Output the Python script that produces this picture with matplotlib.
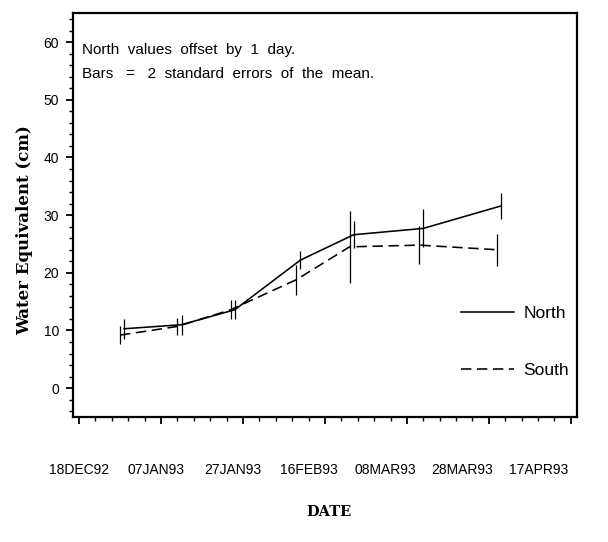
import numpy as np
import pandas as pd
import matplotlib
matplotlib.use('Agg')
import matplotlib.pyplot as plt
import matplotlib.dates as mdates
from matplotlib.transforms import ScaledTranslation

# survey dates (South); North values plotted one day later
south_dates = pd.to_datetime(['1992-12-28', '1993-01-11', '1993-01-24', '1993-02-09',
                              '1993-02-22', '1993-03-11', '1993-03-30'])
north_dates = south_dates + pd.Timedelta(days=1)

# water equivalent (cm) and 2 standard errors
north_we = [10.3, 11.0, 13.6, 22.2, 26.6, 27.7, 31.6]
north_se2 = [1.7, 1.7, 1.6, 1.6, 2.3, 3.3, 2.2]
south_we = [9.2, 10.7, 13.6, 18.8, 24.5, 24.8, 24.0]
south_se2 = [1.5, 1.5, 1.6, 2.6, 6.2, 3.3, 2.8]

tick_dates = pd.date_range('1992-12-18', periods=7, freq='20D')

plt.rcParams['font.family'] = ['Liberation Sans', 'DejaVu Sans']

fig = plt.figure(figsize=(6.08, 5.42), dpi=100)
ax = fig.add_axes([0.120, 0.2306, 0.829, 0.745])

# error bars first, then lines
ax.vlines(north_dates, np.array(north_we) - north_se2, np.array(north_we) + north_se2,
          color='black', lw=0.9)
ax.vlines(south_dates, np.array(south_we) - south_se2, np.array(south_we) + south_se2,
          color='black', lw=0.9)
ax.plot(north_dates, north_we, color='black', lw=1.15, label='North')
ax.plot(south_dates, south_we, color='black', lw=1.15, dashes=(6.5, 3.5), label='South')

ax.set_xlim(pd.Timestamp('1992-12-16 12:00'), pd.Timestamp('1993-04-18 12:00'))
ax.set_ylim(-5, 65)

ax.set_xticks(tick_dates)
ax.xaxis.set_major_formatter(plt.FuncFormatter(lambda v, p: mdates.num2date(v).strftime('%d%b%y').upper()))
ax.set_xticks(pd.date_range('1992-12-18', '1993-04-18', freq='4D'), minor=True)
ax.set_yticks(range(0, 61, 10))
ax.set_yticks(range(-4, 65, 2), minor=True)

ax.tick_params(axis='both', which='major', length=5, width=1.3, labelsize=10, direction='out')
ax.tick_params(axis='both', which='minor', length=3, width=1.0, direction='out')
ax.tick_params(axis='x', which='major', pad=28)
ax.tick_params(axis='y', which='major', pad=5)
for s in ax.spines.values():
    s.set_linewidth(1.6)

# the date labels sit a little left of their ticks, more so to the right
for i, lbl in enumerate(ax.get_xticklabels()):
    lbl.set_transform(lbl.get_transform() + ScaledTranslation(-0.053 * i, 0, fig.dpi_scale_trans))

ax.set_ylabel('Water Equivalent (cm)', family='DejaVu Serif', fontweight='bold', fontsize=12)
ax.yaxis.set_label_coords(-0.079, 0.463)
ax.set_xlabel('DATE', family='DejaVu Serif', fontweight='bold', fontsize=10.5)
ax.xaxis.set_label_coords(0.508, -0.218)

ax.text(0.018, 0.908, 'North  values  offset  by  1  day.', transform=ax.transAxes, fontsize=11, va='center')
ax.text(0.018, 0.850, 'Bars   =   2  standard  errors  of  the  mean.', transform=ax.transAxes, fontsize=11, va='center')

ax.legend(loc='upper left', bbox_to_anchor=(0.757, 0.292), frameon=False, fontsize=12.5,
          handlelength=3.0, handletextpad=0.58, labelspacing=2.4, borderaxespad=0)

fig.savefig('out.png', dpi=100)
